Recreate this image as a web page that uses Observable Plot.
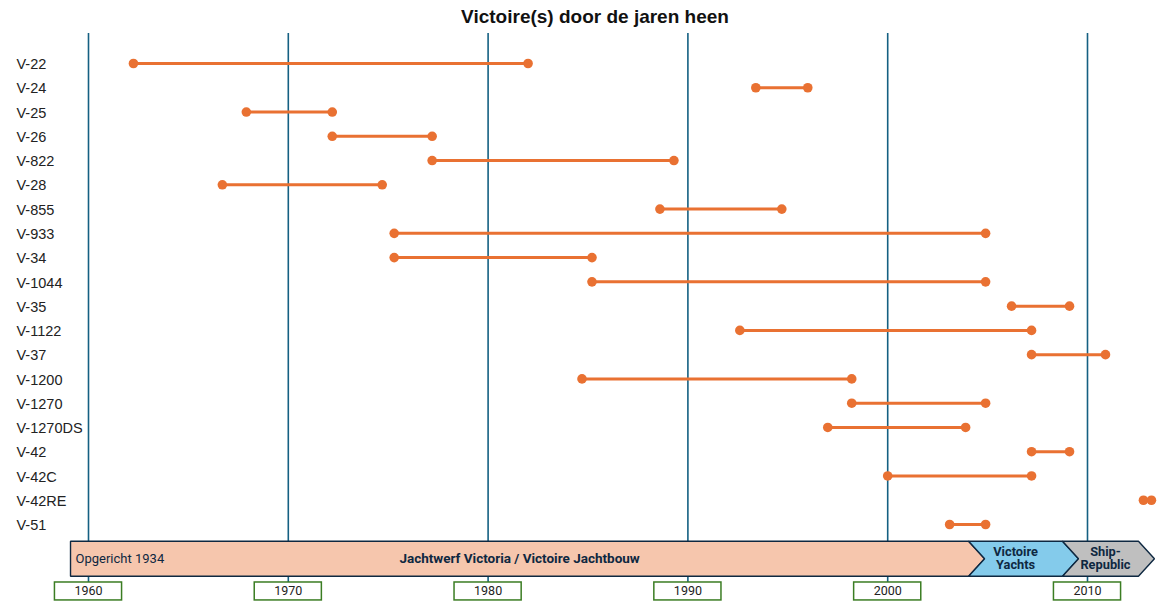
<!DOCTYPE html>
<html>
<head>
<meta charset="utf-8">
<script src="https://cdn.jsdelivr.net/npm/d3@7"></script>
<script src="https://cdn.jsdelivr.net/npm/@observablehq/plot@0.6"></script>
<style>
  html, body { margin: 0; padding: 0; background: #fff; }
  #chart svg { display: block; }
</style>
</head>
<body>
<div id="chart"></div>
<script>
// ---- data ----
const chartTitle = "Victoire(s) door de jaren heen";
const boats = ["V-22","V-24","V-25","V-26","V-822","V-28","V-855","V-933","V-34","V-1044",
               "V-35","V-1122","V-37","V-1200","V-1270","V-1270DS","V-42","V-42C","V-42RE","V-51"];
const startYears = [1962.25,1993.4,1967.9,1972.2,1977.2,1966.7,1988.6,1975.3,1975.3,1985.2,
                    2006.2,1992.6,2007.2,1984.7,1998.2,1997.0,2007.2,2000.0,2012.8,2003.1];
const endYears   = [1982.0,1996.0,1972.2,1977.2,1989.3,1974.7,1994.7,2004.9,1985.2,2004.9,
                    2009.1,2007.2,2010.9,1998.2,2004.9,2003.9,2009.1,2007.2,2013.2,2004.9];
const decadeTicks = [1960,1970,1980,1990,2000,2010];
const eraNames = ["Jachtwerf Victoria / Victoire Jachtbouw", "Victoire Yachts", "Ship-Republic"];
const eraLabels = ["Jachtwerf Victoria / Victoire Jachtbouw", "Victoire\nYachts", "Ship-\nRepublic"];
const eraStart = [1959.1, 2004.05, 2008.75];
const eraEnd   = [2004.05, 2008.75, 2012.55];
const foundedNote = "Opgericht 1934";

// ---- styling / layout constants ----
const eraFills = ["#F6C6AD", "#84CBEB", "#BFBFBF"];
const eraFontSizes = [13.5, 12.8, 12.8];
const orange = "#E97132";
const gridColor = "#156082";
const navy = "#0E2841";
const green = "#3B7D23";
const arrowDepth = 0.8;          // years
const bandTop = 19.69, bandBot = 21.13, bandMid = (bandTop + bandBot) / 2;
const boxTop = 21.39, boxBot = 22.13, boxHalf = 1.68;

const rows = boats.map((b, i) => ({boat: b, i, start: startYears[i], end: endYears[i]}));

const marks = [];
// vertical decade lines
marks.push(Plot.ruleX(decadeTicks, {x: d => d, y1: -1.24, y2: boxTop, stroke: gridColor, strokeWidth: 1.6}));

// era bands (chevrons)
eraNames.forEach((name, k) => {
  const s = eraStart[k], e = eraEnd[k];
  const pts = [
    [s, bandTop], [e, bandTop], [e + arrowDepth, bandMid], [e, bandBot], [s, bandBot]
  ];
  if (k > 0) pts.push([s + arrowDepth, bandMid]);
  marks.push(Plot.line(pts, {x: d => d[0], y: d => d[1], curve: "linear-closed",
    fill: eraFills[k], stroke: navy, strokeWidth: 1.4, strokeLinejoin: "miter"}));
  marks.push(Plot.text([eraLabels[k]], {
    x: (s + e) / 2 + (k === 2 ? 0.25 : 0), y: bandMid, text: d => d, fill: navy, fontWeight: "bold",
    fontSize: eraFontSizes[k], lineHeight: 1.0, fontFamily: "Roboto, 'Liberation Sans', sans-serif"
  }));
});
marks.push(Plot.text([foundedNote], {x: eraStart[0], y: bandMid, text: d => d, textAnchor: "start", dx: 5,
  fill: navy, fontSize: 13, fontFamily: "Roboto, 'Liberation Sans', sans-serif"}));

// year boxes
marks.push(Plot.rect(decadeTicks, {x1: d => d - boxHalf, x2: d => d + boxHalf, y1: boxTop, y2: boxBot,
  fill: "#fff", stroke: green, strokeWidth: 1.5}));
marks.push(Plot.text(decadeTicks, {x: d => d, y: (boxTop + boxBot) / 2, text: d => String(d),
  fill: "#222", fontSize: 12.5, fontFamily: "Roboto, 'Liberation Sans', sans-serif"}));

// dumbbells
marks.push(Plot.link(rows, {x1: "start", x2: "end", y1: "i", y2: "i", stroke: orange, strokeWidth: 3}));
marks.push(Plot.dot(rows, {x: "start", y: "i", r: 4.8, fill: orange}));
marks.push(Plot.dot(rows, {x: "end", y: "i", r: 4.8, fill: orange}));

// row labels
marks.push(Plot.text(rows, {y: "i", text: "boat", frameAnchor: "left", textAnchor: "start", dx: -72, dy: 1,
  fill: "#222", fontSize: 14.5, fontFamily: "'Liberation Sans', Arial, sans-serif"}));

// title
marks.push(Plot.text([chartTitle], {frameAnchor: "top", lineAnchor: "middle", text: d => d, dx: 7, dy: -47,
  fontWeight: "bold", fontSize: 19, fill: "#111", fontFamily: "'Liberation Sans', Arial, sans-serif"}));

const chart = Plot.plot({
  width: 1170,
  height: 609,
  marginLeft: 88,
  marginRight: 83,
  marginTop: 63,
  marginBottom: 85,
  x: {domain: [1960, 2010], axis: null},
  y: {domain: [0, 19], range: [63, 524], axis: null},
  style: {background: "#fff", overflow: "visible"},
  marks
});
document.getElementById("chart").appendChild(chart);
</script>
</body>
</html>
